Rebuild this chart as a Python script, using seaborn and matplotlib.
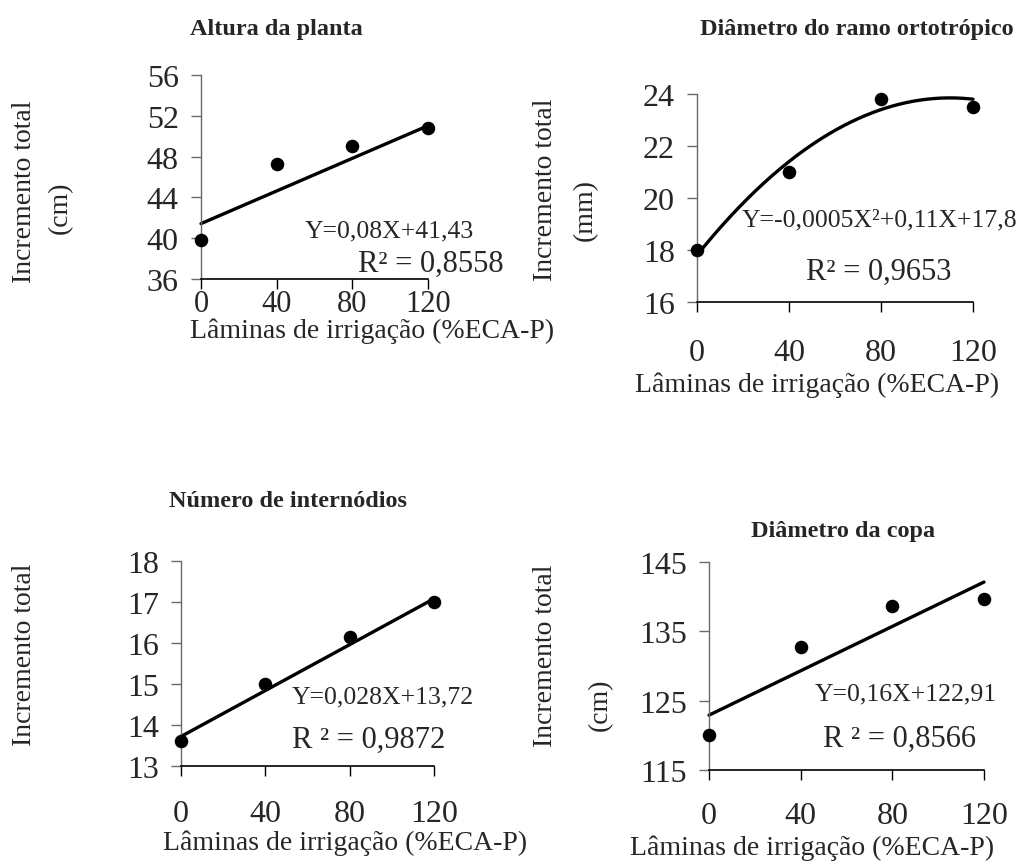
import numpy as np
import pandas as pd
import seaborn as sns
import matplotlib
matplotlib.use("Agg")
import matplotlib.pyplot as plt

# ---------------- data ----------------
laminas = [0, 40, 80, 120]
altura = [39.8, 47.3, 49.0, 50.8]
diametro_ramo = [18.0, 21.0, 23.8, 23.5]
internodios = [13.6, 15.0, 16.15, 17.0]
diametro_copa = [120.0, 132.7, 138.6, 139.7]

# trendline coefficients (highest power first)
coef_altura = [0.08, 41.43]
coef_ramo = [-0.0005, 0.11, 17.8]
coef_internodios = [0.028, 13.72]
coef_copa = [0.16, 122.91]

titles = ["Altura da planta", "Diâmetro do ramo ortotrópico",
          "Número de internódios", "Diâmetro da copa"]
eq_texts = ["Y=0,08X+41,43", "Y=-0,0005X²+0,11X+17,8",
            "Y=0,028X+13,72", "Y=0,16X+122,91"]
r2_texts = ["R² = 0,8558", "R² = 0,9653", "R ² = 0,9872", "R ² = 0,8566"]
yticks_altura = [36, 40, 44, 48, 52, 56]
yticks_ramo = [16, 18, 20, 22, 24]
yticks_intern = [13, 14, 15, 16, 17, 18]
yticks_copa = [115, 125, 135, 145]
xtick_labels = ["0", "40", "80", "120"]
xlabel = "Lâminas de irrigação (%ECA-P)"
ylabel = "Incremento total"

# ---------------- style ----------------
sns.set_theme(style="white")
plt.rcParams["font.family"] = ["Liberation Serif", "DejaVu Serif"]

W, H = 1025, 862
fig = plt.figure(figsize=(W / 100, H / 100), dpi=100)


def fx(px):
    return px / W


def fy(py):
    return 1 - py / H


def make_ax(l, r, t, b):
    return fig.add_axes([fx(l), fy(b), (r - l) / W, (b - t) / H])


panels = [
    dict(rect=(201, 428, 76, 280), y=altura, coef=coef_altura, yt=yticks_altura, xpad=0, xls=22),
    dict(rect=(697, 973, 95, 303), y=diametro_ramo, coef=coef_ramo, yt=yticks_ramo, xpad=19, xls=23),
    dict(rect=(181, 434, 562, 767), y=internodios, coef=coef_internodios, yt=yticks_intern, xpad=17, xls=23),
    dict(rect=(709, 984, 563, 771), y=diametro_copa, coef=coef_copa, yt=yticks_copa, xpad=15, xls=23),
]

for p in panels:
    ax = make_ax(*p["rect"])
    xs = np.linspace(0, 120, 200)
    fit = pd.DataFrame({"x": xs, "y": np.polyval(p["coef"], xs)})
    pts = pd.DataFrame({"x": laminas, "y": p["y"]})
    sns.lineplot(data=fit, x="x", y="y", ax=ax, color="black", linewidth=2.4, clip_on=False)
    sns.scatterplot(data=pts, x="x", y="y", ax=ax, color="black", s=95,
                    edgecolor="black", linewidth=0, clip_on=False, zorder=5)
    ax.set_xlim(0, 120)
    ax.set_ylim(p["yt"][0], p["yt"][-1])
    ax.set_xticks(laminas)
    ax.set_xticklabels(xtick_labels)
    ax.set_yticks(p["yt"])
    ax.set_xlabel("")
    ax.set_ylabel("")
    for s in ["top", "right"]:
        ax.spines[s].set_visible(False)
    ax.spines["left"].set_color("#6a6a6a")
    ax.spines["left"].set_linewidth(1.0)
    ax.spines["bottom"].set_color("black")
    ax.spines["bottom"].set_linewidth(1.2)
    ax.tick_params(axis="y", direction="out", length=7, width=1, color="#6a6a6a",
                   pad=9, labelsize=23, left=True)
    ax.tick_params(axis="x", direction="out", length=7, width=1, color="black",
                   pad=p["xpad"], labelsize=p["xls"], bottom=True)
    ax.set_facecolor("white")

# titles
title_pos = [(276, 30), (857, 30), (288, 502), (843, 532)]
for t, (x, y) in zip(titles, title_pos):
    fig.text(fx(x), fy(y), t, ha="center", va="center", fontsize=17.5, fontweight="bold")

# x labels
xl_pos = [(372, 331), (817, 385), (345, 843), (812, 848)]
for (x, y) in xl_pos:
    fig.text(fx(x), fy(y), xlabel, ha="center", va="center", fontsize=20)

# y labels
yl_items = [
    (ylabel, 25, 192), ("(cm)", 60, 208),
    (ylabel, 545, 190), ("(mm)", 585, 210),
    (ylabel, 25, 655),
    (ylabel, 545, 656), ("(cm)", 600, 705),
]
for txt, x, y in yl_items:
    fig.text(fx(x), fy(y), txt, ha="center", va="center", rotation=90, fontsize=20)

# equations and R²
eq_pos = [(305, 231), (742, 220), (292, 697), (815, 694)]
r2_pos = [(358, 264), (806, 272), (292, 740), (823, 739)]
for t, (x, y) in zip(eq_texts, eq_pos):
    fig.text(fx(x), fy(y), t, ha="left", va="center", fontsize=18.5)
for t, (x, y) in zip(r2_texts, r2_pos):
    fig.text(fx(x), fy(y), t, ha="left", va="center", fontsize=22)

fig.savefig("out.png", dpi=100, facecolor="white")
